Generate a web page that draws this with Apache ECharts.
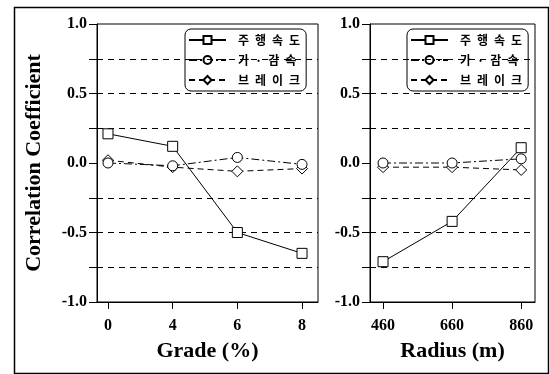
<!DOCTYPE html>
<html><head><meta charset="utf-8">
<script src="https://cdn.jsdelivr.net/npm/echarts@6/dist/echarts.min.js"></script>
<style>html,body{margin:0;padding:0;background:#fff}#c{width:549px;height:374px}</style>
</head><body><div id="c"></div>
<script>
const gradeLabels = ['0', '4', '6', '8'];
const radiusValues = [460, 660, 860];
const seriesNames = ['주행속도', '가·감속', '브레이크'];
const legendLabels = ['주\u2002행\u2002속\u2002도', '가\u2002·\u2002감\u2002속', '브\u2002레\u2002이\u2002크'];
const gradeSpeed = [0.21, 0.12, -0.50, -0.65];
const gradeAccel = [0.00, -0.02, 0.04, -0.01];
const gradeBrake = [0.02, -0.03, -0.06, -0.04];
const radiusSpeed = [-0.71, -0.42, 0.11];
const radiusAccel = [0.00, 0.00, 0.03];
const radiusBrake = [-0.03, -0.03, -0.05];
const yTicks = [-1, -0.75, -0.5, -0.25, 0, 0.25, 0.5, 0.75, 1];
const yLabels = [-1, -0.5, 0, 0.5, 1];
const gridLines = [0.75, 0.5, 0.25, -0.25, -0.5, -0.75];

const serif = 'Liberation Serif';
const symbols = ['rect', 'circle', 'diamond'];
const dashes = ['solid', [8, 3, 2, 3], [6, 4]];

function yAxis(idx, name) {
  return {
    type: 'value', gridIndex: idx, min: -1, max: 1, interval: 0.25,
    name: name || '', nameLocation: 'middle', nameGap: 52,
    nameTextStyle: { fontFamily: serif, fontWeight: 'bold', fontSize: 22, color: '#000' },
    axisLine: { show: true, onZero: false, lineStyle: { color: '#000', width: 1 } },
    axisTick: { show: true, length: 8, lineStyle: { color: '#000' }, customValues: yTicks },
    axisLabel: { customValues: yLabels, formatter: v => v.toFixed(1), fontFamily: serif, fontWeight: 'bold', fontSize: 16, color: '#000', margin: 10 },
    splitLine: { show: false }
  };
}

function makeSeries(xIdx, xs, ys, k) {
  const data = xs.map((x, i) => [x, ys[i]]);
  const s = {
    name: seriesNames[k], type: 'line', xAxisIndex: xIdx, yAxisIndex: xIdx,
    data: data, symbol: symbols[k], symbolSize: k === 2 ? 11 : 10,
    itemStyle: { color: '#fff', borderColor: '#000', borderWidth: 1 },
    lineStyle: { color: '#000', width: 1, type: dashes[k] },
    z: 5 - k, animation: false
  };
  if (k === 0) {
    s.markLine = {
      silent: true, symbol: 'none', animation: false, label: { show: false },
      lineStyle: { color: '#000', type: [6, 5], width: 1 },
      data: gridLines.map(v => ({ yAxis: v }))
    };
  }
  return s;
}

const idxs = gradeLabels.map((_, i) => i);
const series = [];
[gradeSpeed, gradeAccel, gradeBrake].forEach((d, k) => series.push(makeSeries(0, idxs, d, k)));
[radiusSpeed, radiusAccel, radiusBrake].forEach((d, k) => series.push(makeSeries(1, radiusValues, d, k)));

function legend(left) {
  return {
    data: seriesNames, left: left, top: 29, orient: 'vertical',
    itemWidth: 37, itemHeight: 10, itemGap: 8,
    padding: [5, 6, 5, 3],
    backgroundColor: '#fff', borderColor: '#000', borderWidth: 1, borderRadius: 6,
    formatter: n => legendLabels[seriesNames.indexOf(n)],
    textStyle: { fontFamily: 'Noto Sans CJK KR', fontWeight: 'bold', fontSize: 12, color: '#000', padding: [0, 0, 0, 7] },
    selectedMode: false
  };
}

const chart = echarts.init(document.getElementById('c'), null, { renderer: 'canvas' });
chart.setOption({
  animation: false,
  backgroundColor: '#fff',
  grid: [
    { left: 97, right: 231, top: 24, bottom: 72, show: true, borderColor: '#000', borderWidth: 1 },
    { left: 370, right: 14, top: 24, bottom: 72, show: true, borderColor: '#000', borderWidth: 1 }
  ],
  xAxis: [
    {
      type: 'value', gridIndex: 0, min: -0.17, max: 3.247,
      name: 'Grade (%)', nameLocation: 'middle', nameGap: 38,
      nameTextStyle: { fontFamily: serif, fontWeight: 'bold', fontSize: 22, color: '#000' },
      axisLine: { show: true, onZero: false, lineStyle: { color: '#000' } },
      axisTick: { show: true, length: 7, customValues: idxs, lineStyle: { color: '#000' } },
      axisLabel: { customValues: idxs, formatter: v => gradeLabels[Math.round(v)], fontFamily: serif, fontWeight: 'bold', fontSize: 16, color: '#000', margin: 16 },
      splitLine: { show: false }
    },
    {
      type: 'value', gridIndex: 1, min: 422.3, max: 900,
      name: 'Radius (m)', nameLocation: 'middle', nameGap: 38,
      nameTextStyle: { fontFamily: serif, fontWeight: 'bold', fontSize: 22, color: '#000' },
      axisLine: { show: true, onZero: false, lineStyle: { color: '#000' } },
      axisTick: { show: true, length: 7, customValues: radiusValues, lineStyle: { color: '#000' } },
      axisLabel: { customValues: radiusValues, formatter: v => String(v), fontFamily: serif, fontWeight: 'bold', fontSize: 16, color: '#000', margin: 16 },
      splitLine: { show: false }
    }
  ],
  yAxis: [yAxis(0, 'Correlation Coefficient'), yAxis(1)],
  legend: [legend(185), legend(407)],
  series: series,
  graphic: [{
    type: 'rect', left: 12, top: 5, silent: true,
    shape: { width: 534, height: 366 },
    style: { fill: 'none', stroke: '#000', lineWidth: 1.5 }
  }]
});
</script></body></html>
